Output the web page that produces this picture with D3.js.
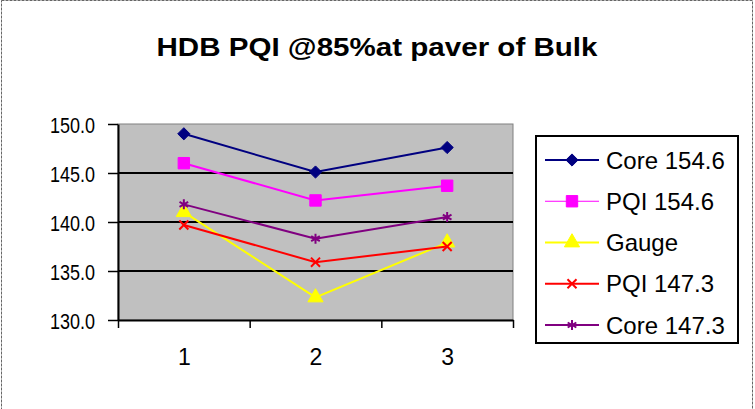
<!DOCTYPE html>
<html>
<head>
<meta charset="utf-8">
<script src="https://cdn.jsdelivr.net/npm/d3@7"></script>
<style>
	body { margin: 0; background: #fff; }
	svg { display: block; font-family: "Liberation Sans", Arial, sans-serif; }
	.axis path, .axis line { stroke: #000; }
	.axis text { fill: #000; }
</style>
</head>
<body>
<svg id="chart" width="755" height="409"></svg>
<script>
// chart data
var categories = [1, 2, 3];
var seriesNames = ['Core 154.6', 'PQI 154.6', 'Gauge', 'PQI 147.3', 'Core 147.3'];
var core1546 = [149.0, 145.1, 147.6];
var pqi1546 = [146.0, 142.2, 143.7];
var gauge = [141.0, 132.3, 137.9];
var pqi1473 = [139.7, 135.9, 137.5];
var core1473 = [141.8, 138.3, 140.5];
var yTicks = [130, 135, 140, 145, 150];

(function() {

	'use strict';

	var svg = d3.select('#chart'),
		plot = { left: 118, right: 513, top: 124, bottom: 320 };

	var series = [
		{ name: seriesNames[0], values: core1546, color: '#000080', symbol: d3.symbolDiamond2, size: 95 },
		{ name: seriesNames[1], values: pqi1546, color: '#ff00ff', symbol: d3.symbolSquare, size: 130 },
		{ name: seriesNames[2], values: gauge, color: '#ffff00', symbol: d3.symbolTriangle, size: 100 },
		{ name: seriesNames[3], values: pqi1473, color: '#ff0000', symbol: d3.symbolX, size: 55 },
		{ name: seriesNames[4], values: core1473, color: '#800080', symbol: d3.symbolAsterisk, size: 70 }
	];

	// outer border
	svg.append('rect')
		.attr('x', 1.5).attr('y', 0.5)
		.attr('width', 751).attr('height', 420)
		.attr('fill', 'none')
		.attr('stroke', '#666')
		.attr('stroke-dasharray', '3,1');

	var xScale = d3.scaleLinear()
			.domain([0.5, 3.5])
			.range([plot.left, plot.right]),
		yScale = d3.scaleLinear()
			.domain([130, 150])
			.range([plot.bottom, plot.top]);

	// plot area
	svg.append('rect')
		.attr('x', plot.left).attr('y', plot.top)
		.attr('width', plot.right - plot.left)
		.attr('height', plot.bottom - plot.top)
		.attr('fill', '#c0c0c0')
		.attr('stroke', '#808080')
		.attr('stroke-width', 1);

	// gridlines
	svg.append('g')
		.selectAll('line')
		.data(yTicks.slice(1, -1))
		.enter()
		.append('line')
		.attr('x1', plot.left).attr('x2', plot.right)
		.attr('y1', function(d) { return yScale(d); })
		.attr('y2', function(d) { return yScale(d); })
		.attr('stroke', '#000')
		.attr('stroke-width', 2);

	// axes
	var yAxis = d3.axisLeft(yScale)
			.tickValues(yTicks)
			.tickSizeInner(10)
			.tickSizeOuter(0)
			.tickPadding(13)
			.tickFormat(d3.format('.1f')),
		xTickAxis = d3.axisBottom(xScale)
			.tickValues([0.5, 1.5, 2.5, 3.5])
			.tickSizeInner(8)
			.tickSizeOuter(0)
			.tickFormat(''),
		xLabelAxis = d3.axisBottom(xScale)
			.tickValues(categories)
			.tickSize(0)
			.tickPadding(36)
			.tickFormat(d3.format('d'));

	var gy = svg.append('g')
		.attr('class', 'axis')
		.attr('transform', 'translate(' + plot.left + ',0)')
		.call(yAxis);
	gy.selectAll('line').attr('stroke-width', 1.5);
	gy.select('.domain').attr('stroke-width', 2);
	gy.selectAll('text')
		.attr('font-size', 22)
		.attr('dy', '0.40em')
		.attr('textLength', 45)
		.attr('lengthAdjust', 'spacingAndGlyphs')
		.attr('font-family', '"Liberation Sans", Arial, sans-serif');

	var gx = svg.append('g')
		.attr('class', 'axis')
		.attr('transform', 'translate(0,' + plot.bottom + ')')
		.call(xTickAxis);
	gx.selectAll('line').attr('stroke-width', 1.5);
	gx.select('.domain').attr('stroke-width', 2);

	var gxl = svg.append('g')
		.attr('class', 'axis')
		.attr('transform', 'translate(0,' + plot.bottom + ')')
		.call(xLabelAxis);
	gxl.select('.domain').remove();
	gxl.selectAll('text')
		.attr('font-size', 23)
		.attr('dy', '0.40em')
		.attr('font-family', '"Liberation Sans", Arial, sans-serif');

	// series lines and markers
	var line = d3.line()
		.x(function(d, i) { return xScale(categories[i]); })
		.y(function(d) { return yScale(d); });

	var seriesG = svg.append('g')
		.selectAll('g')
		.data(series)
		.enter()
		.append('g');

	seriesG.append('path')
		.attr('d', function(s) { return line(s.values); })
		.attr('fill', 'none')
		.attr('stroke', function(s) { return s.color; })
		.attr('stroke-width', 2);

	var drawMarker = function(sel, s) {
		var isStroke = s.symbol === d3.symbolX || s.symbol === d3.symbolAsterisk;
		sel.attr('d', d3.symbol().type(s.symbol).size(s.size)())
			.attr('fill', isStroke ? 'none' : s.color)
			.attr('stroke', s.color)
			.attr('stroke-width', isStroke ? 2 : 1);
	};

	seriesG.each(function(s) {
		d3.select(this).selectAll('path.marker')
			.data(s.values)
			.enter()
			.append('path')
			.attr('class', 'marker')
			.attr('transform', function(d, i) {
				return 'translate(' + xScale(categories[i]) + ',' + yScale(d) + ')';
			})
			.each(function() { drawMarker(d3.select(this), s); });
	});

	// title
	svg.append('text')
		.attr('x', 377)
		.attr('y', 56)
		.attr('text-anchor', 'middle')
		.attr('font-size', 25)
		.attr('font-weight', 'bold')
		.attr('textLength', 441)
		.attr('lengthAdjust', 'spacingAndGlyphs')
		.text('HDB PQI @85%at paver of Bulk');

	// legend
	var legend = svg.append('g');
	legend.append('rect')
		.attr('x', 536).attr('y', 136)
		.attr('width', 202).attr('height', 207)
		.attr('fill', '#fff')
		.attr('stroke', '#000')
		.attr('stroke-width', 2);

	var legendY = d3.scalePoint()
		.domain(seriesNames)
		.range([160, 325]);

	var rows = legend.selectAll('g.row')
		.data(series)
		.enter()
		.append('g')
		.attr('class', 'row')
		.attr('transform', function(s) { return 'translate(0,' + legendY(s.name) + ')'; });

	rows.append('line')
		.attr('x1', 545).attr('x2', 599)
		.attr('stroke', function(s) { return s.color; })
		.attr('stroke-width', function(s, i) { return i === 1 ? 1 : 2; });

	rows.append('path')
		.attr('transform', 'translate(572,0)')
		.each(function(s) { drawMarker(d3.select(this), s); });

	rows.append('text')
		.attr('x', 606)
		.attr('dy', '0.36em')
		.attr('font-size', 24)
		.text(function(s) { return s.name; });

})();
</script>
</body>
</html>
